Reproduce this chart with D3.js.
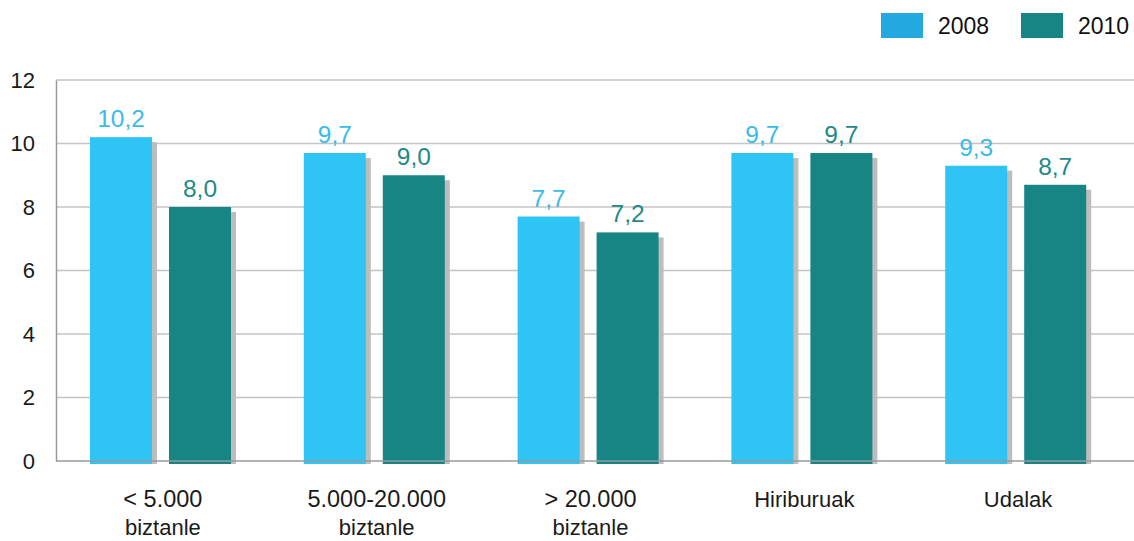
<!DOCTYPE html>
<html>
<head>
<meta charset="utf-8">
<script src="https://cdn.jsdelivr.net/npm/d3@7"></script>
<style>
  html, body { margin: 0; padding: 0; background: #fff; }
  svg { display: block; font-family: "Liberation Sans", Arial, sans-serif; }
</style>
</head>
<body>
<svg id="chart" width="1134" height="541"></svg>
<script>
// ---- data ----
const categories = [["< 5.000", "biztanle"], ["5.000-20.000", "biztanle"], ["> 20.000", "biztanle"], ["Hiriburuak"], ["Udalak"]];
const seriesNames = ["2008", "2010"];
const values2008 = [10.2, 9.7, 7.7, 9.7, 9.3];
const values2010 = [8.0, 9.0, 7.2, 9.7, 8.7];
const yTicks = [0, 2, 4, 6, 8, 10, 12];

const barColors = { "2008": "#2ec4f4", "2010": "#178584" };
const legendColors = { "2008": "#23a8e0", "2010": "#178584" };
const labelColors = { "2008": "#3bbbea", "2010": "#1f8a88" };

const svg = d3.select("#chart");
const catKeys = categories.map((c, i) => "c" + i);

const x = d3.scaleBand().domain(catKeys).range([56, 1125]).padding(0);
const xSub = d3.scaleBand().domain(seriesNames).range([34, 175]).paddingInner(17 / 79).paddingOuter(0);
const y = d3.scaleLinear().domain([0, 12]).range([461, 80]);

// gridlines
svg.append("g").selectAll("line").data(yTicks.filter(t => t > 0)).join("line")
  .attr("x1", 56).attr("x2", 1134)
  .attr("y1", d => y(d)).attr("y2", d => y(d))
  .attr("stroke", "#c4c4c6").attr("stroke-width", 1.5);

// y axis
const yAxis = svg.append("g").attr("transform", "translate(56,0)")
  .call(d3.axisLeft(y).tickValues(yTicks).tickSize(0).tickPadding(21).tickFormat(d3.format("d")));
yAxis.select(".domain").attr("stroke", "#9a9a9e").attr("stroke-width", 1.5);
yAxis.selectAll("text").attr("font-size", 22).attr("fill", "#1a1a1a").attr("font-family", "Liberation Sans, Arial, sans-serif");

// data rows
const rows = [];
catKeys.forEach((k, i) => {
  rows.push({ cat: k, s: "2008", v: values2008[i] });
  rows.push({ cat: k, s: "2010", v: values2010[i] });
});

const bw = xSub.bandwidth();
const base = y(0) + 3;

// shadows
svg.append("g").selectAll("rect").data(rows).join("rect")
  .attr("x", d => x(d.cat) + xSub(d.s) + 5)
  .attr("y", d => y(d.v) + 5)
  .attr("width", bw)
  .attr("height", d => base - y(d.v) - 5)
  .attr("fill", "#bdbdbf");

// bars
svg.append("g").selectAll("rect").data(rows).join("rect")
  .attr("x", d => x(d.cat) + xSub(d.s))
  .attr("y", d => y(d.v))
  .attr("width", bw)
  .attr("height", d => base - y(d.v))
  .attr("fill", d => barColors[d.s]);

// x axis line
svg.append("line").attr("x1", 56).attr("x2", 1134).attr("y1", y(0)).attr("y2", y(0))
  .attr("stroke", "#9a9a9e").attr("stroke-width", 1.5);

// value labels
const fmt = v => d3.format(".1f")(v).replace(".", ",");
svg.append("g").selectAll("text").data(rows).join("text")
  .attr("x", d => x(d.cat) + xSub(d.s) + bw / 2)
  .attr("y", d => y(d.v) - 10)
  .attr("text-anchor", "middle")
  .attr("font-size", 24.5)
  .attr("fill", d => labelColors[d.s])
  .text(d => fmt(d.v));

// category labels
const catG = svg.append("g").selectAll("text").data(categories).join("text")
  .attr("x", (d, i) => x(catKeys[i]) + x.bandwidth() / 2)
  .attr("y", 507)
  .attr("text-anchor", "middle")
  .attr("fill", "#1a1a1a");
catG.selectAll("tspan").data(d => d).join("tspan")
  .attr("x", function () { return d3.select(this.parentNode).attr("x"); })
  .attr("dy", (d, j) => j === 0 ? 0 : 28)
  .attr("font-size", function (d, j) { return (j === 0 && this.parentNode.__data__.length > 1) ? 23.5 : 22; })
  .text(d => d);

// legend
const legendX = { "2008": 881, "2010": 1021 };
const lg = svg.append("g").selectAll("g").data(seriesNames).join("g")
  .attr("transform", d => `translate(${legendX[d]},13)`);
lg.append("rect").attr("width", 42).attr("height", 25).attr("fill", d => legendColors[d]);
lg.append("text").attr("x", 57).attr("y", 21).attr("font-size", 23).attr("fill", "#111").text(d => d);
</script>
</body>
</html>
